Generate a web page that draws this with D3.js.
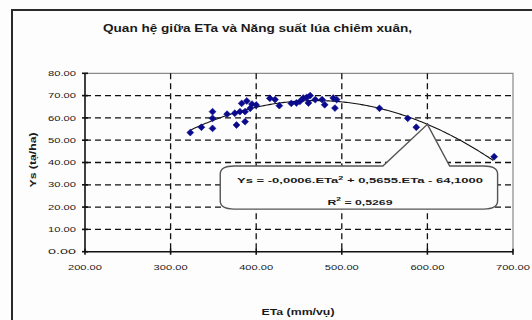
<!DOCTYPE html>
<html>
<head>
<meta charset="utf-8">
<script src="https://cdn.jsdelivr.net/npm/d3@7"></script>
<style>
  html, body { margin: 0; padding: 0; background: #fdfdfd; }
  svg { display: block; }
  text { font-family: "Liberation Sans", Arial, sans-serif; fill: #1a1a1a; }
</style>
</head>
<body>
<svg id="chart" width="532" height="320"></svg>
<script>
// Seasonal evapotranspiration (mm per crop) and rice yield (quintal/ha)
const eta = [323, 336, 349, 349, 349, 366, 375, 377, 381, 383, 387, 387, 389, 393, 395, 400,
             416, 422, 427, 441, 447, 451, 455, 459, 461, 463, 469, 477, 480, 490, 492, 494,
             544, 577, 587, 678];
const yieldYs = [53.4, 55.8, 62.8, 59.8, 55.3, 61.7, 62.1, 56.8, 62.8, 66.5, 58.3, 62.8, 67.6, 64.3, 66.2, 65.8,
                 68.8, 68.2, 65.5, 66.5, 66.7, 67.4, 68.9, 69.2, 66.7, 70.0, 68.2, 68.2, 65.9, 68.9, 64.4, 68.2,
                 64.3, 59.8, 55.8, 42.6];

const xTicks = [200, 300, 400, 500, 600, 700];
const yTicks = [0, 10, 20, 30, 40, 50, 60, 70, 80];

const titleText = "Quan hệ giữa ETa và Năng suất lúa chiêm xuân,";
const xTitle = "ETa (mm/vụ)";
const yTitle = "Ys (tạ/ha)";
const eqLine1 = ["Ys = -0,0006.ETa", "2", " + 0,5655.ETa - 64,1000"];
const eqLine2 = ["R", "2", " = 0,5269"];

// Callout box (in data units) and the ETa value its pointer marks on the trendline
const calloutBox = { x0: 358, x1: 682, y0: 19.1, y1: 38.4 };
const calloutBase = [548, 626];
const calloutAt = 600;

const svg = d3.select("#chart");
const W = 532, H = 320;
const plot = { left: 85, right: 513, top: 73.3, bottom: 251.7 };

const x = d3.scaleLinear().domain([200, 700]).range([plot.left, plot.right]);
const y = d3.scaleLinear().domain([0, 80]).range([plot.bottom, plot.top]);

// Outer chart frame
svg.append("rect")
  .attr("x", 12).attr("y", 10).attr("width", 530).attr("height", 330)
  .attr("fill", "#fdfdfd").attr("stroke", "#2a2a2a").attr("stroke-width", 2);

// Title
svg.append("text")
  .attr("x", 257.5).attr("y", 31.5)
  .attr("text-anchor", "middle")
  .attr("font-size", 10).attr("font-weight", "bold")
  .attr("textLength", 309).attr("lengthAdjust", "spacingAndGlyphs")
  .text(titleText);

// Plot border (top and right)
svg.append("path")
  .attr("d", `M${plot.left},${plot.top}H${plot.right}V${plot.bottom}`)
  .attr("fill", "none").attr("stroke", "#8a8a8a").attr("stroke-width", 1.2);

// Dashed gridlines
const grid = svg.append("g").attr("stroke", "#111").attr("stroke-width", 1.3)
  .attr("stroke-dasharray", "6,4");
grid.selectAll("line.h").data(yTicks.filter(d => d > 0 && d < 80)).join("line")
  .attr("class", "h")
  .attr("x1", plot.left).attr("x2", plot.right)
  .attr("y1", d => y(d)).attr("y2", d => y(d));
grid.selectAll("line.v").data(xTicks.filter(d => d > 200 && d < 700)).join("line")
  .attr("class", "v")
  .attr("y1", plot.top).attr("y2", plot.bottom)
  .attr("x1", d => x(d)).attr("x2", d => x(d));

// Quadratic least-squares trendline
function fitQuadratic(xs, ys) {
  const n = xs.length;
  let s = [0, 0, 0, 0, 0], t = [0, 0, 0];
  for (let i = 0; i < n; i++) {
    const xi = xs[i], yi = ys[i];
    let p = 1;
    for (let k = 0; k < 5; k++) { s[k] += p; if (k < 3) t[k] += p * yi; p *= xi; }
  }
  const A = [[s[0], s[1], s[2], t[0]], [s[1], s[2], s[3], t[1]], [s[2], s[3], s[4], t[2]]];
  for (let i = 0; i < 3; i++) {
    for (let j = i + 1; j < 3; j++) {
      const f = A[j][i] / A[i][i];
      for (let k = i; k < 4; k++) A[j][k] -= f * A[i][k];
    }
  }
  const c = [0, 0, 0];
  for (let i = 2; i >= 0; i--) {
    let v = A[i][3];
    for (let k = i + 1; k < 3; k++) v -= A[i][k] * c[k];
    c[i] = v / A[i][i];
  }
  return v => c[0] + c[1] * v + c[2] * v * v;
}
const trend = fitQuadratic(eta, yieldYs);
const [minE, maxE] = d3.extent(eta);
const trendPts = d3.range(minE, maxE + 0.5, 2).map(v => [v, trend(v)]);
svg.append("path")
  .datum(trendPts)
  .attr("fill", "none").attr("stroke", "#111").attr("stroke-width", 1.1)
  .attr("d", d3.line().x(d => x(d[0])).y(d => y(d[1])));

// Axes
const axisG = svg.append("g").attr("stroke", "#111").attr("stroke-width", 1.6);
axisG.append("line").attr("x1", plot.left).attr("x2", plot.left)
  .attr("y1", plot.top).attr("y2", plot.bottom);
axisG.append("line").attr("x1", plot.left).attr("x2", plot.right)
  .attr("y1", plot.bottom).attr("y2", plot.bottom);
axisG.selectAll("line.yt").data(yTicks).join("line").attr("class", "yt")
  .attr("x1", plot.left - 3).attr("x2", plot.left + 3)
  .attr("y1", d => y(d)).attr("y2", d => y(d));
axisG.selectAll("line.xt").data(xTicks).join("line").attr("class", "xt")
  .attr("y1", plot.bottom - 3).attr("y2", plot.bottom + 3)
  .attr("x1", d => x(d)).attr("x2", d => x(d));

// Tick labels
svg.append("g").selectAll("text").data(yTicks).join("text")
  .attr("x", 76).attr("y", d => y(d) + 2.6)
  .attr("text-anchor", "end").attr("font-size", 7.5)
  .attr("textLength", 28).attr("lengthAdjust", "spacingAndGlyphs")
  .text(d => d.toFixed(2));
svg.append("g").selectAll("text").data(xTicks).join("text")
  .attr("x", d => x(d)).attr("y", 269.5)
  .attr("text-anchor", "middle").attr("font-size", 7.5)
  .attr("textLength", 34).attr("lengthAdjust", "spacingAndGlyphs")
  .text(d => d.toFixed(2));

// Axis titles
svg.append("text")
  .attr("x", 298).attr("y", 315)
  .attr("text-anchor", "middle").attr("font-size", 8.5).attr("font-weight", "bold")
  .attr("textLength", 73).attr("lengthAdjust", "spacingAndGlyphs")
  .text(xTitle);
svg.append("text")
  .attr("transform", "translate(36,160) rotate(-90)")
  .attr("text-anchor", "middle").attr("font-size", 8.5).attr("font-weight", "bold")
  .attr("textLength", 55).attr("lengthAdjust", "spacingAndGlyphs")
  .text(yTitle);

// Data points: navy diamonds
svg.append("g").selectAll("path").data(eta.map((e, i) => [e, yieldYs[i]])).join("path")
  .attr("transform", d => `translate(${x(d[0])},${y(d[1])})`)
  .attr("d", d3.symbol(d3.symbolDiamond2, 30))
  .attr("fill", "#0a0a8c").attr("stroke", "#0a0a8c").attr("stroke-width", 0.6);

// Equation callout
const bx0 = x(calloutBox.x0), bx1 = x(calloutBox.x1);
const by0 = y(calloutBox.y1), by1 = y(calloutBox.y0);
const px0 = x(calloutBase[0]), px1 = x(calloutBase[1]);
const tipX = x(calloutAt), tipY = y(trend(calloutAt));
const rx = 14, ry = 8;
const callout = d3.path();
callout.moveTo(bx0 + rx, by0);
callout.lineTo(px0, by0);
callout.lineTo(tipX, tipY);
callout.lineTo(px1, by0);
callout.lineTo(bx1 - rx, by0);
callout.quadraticCurveTo(bx1, by0, bx1, by0 + ry);
callout.lineTo(bx1, by1 - ry);
callout.quadraticCurveTo(bx1, by1, bx1 - rx, by1);
callout.lineTo(bx0 + rx, by1);
callout.quadraticCurveTo(bx0, by1, bx0, by1 - ry);
callout.lineTo(bx0, by0 + ry);
callout.quadraticCurveTo(bx0, by0, bx0 + rx, by0);
callout.closePath();
svg.append("path")
  .attr("d", callout.toString())
  .attr("fill", "#fdfdfd").attr("stroke", "#555").attr("stroke-width", 1.4);

function eqText(parts, cx, cy, len) {
  const t = svg.append("text").attr("x", cx).attr("y", cy)
    .attr("text-anchor", "middle").attr("font-size", 8).attr("font-weight", "bold")
    .attr("textLength", len).attr("lengthAdjust", "spacingAndGlyphs");
  t.append("tspan").text(parts[0]);
  t.append("tspan").attr("font-size", 5.5).attr("dy", -3.5).text(parts[1]);
  t.append("tspan").attr("dy", 3.5).text(parts[2]);
}
eqText(eqLine1, 360, 183, 246);
eqText(eqLine2, 360, 204.5, 65);
</script>
</body>
</html>
